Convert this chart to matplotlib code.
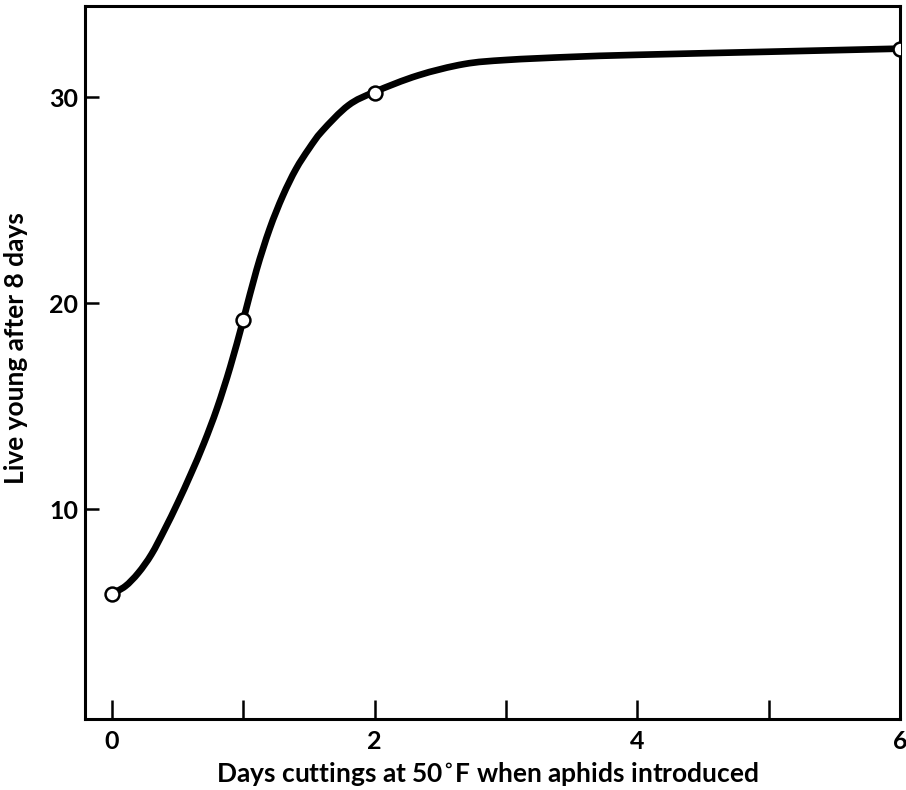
import matplotlib.pyplot as plt
from matplotlib.path import Path
from matplotlib.patches import PathPatch
from matplotlib.ticker import MultipleLocator

## observed points: days at 50F vs live young after 8 days
days = [0, 1, 2, 6]
young = [5.9, 19.2, 30.2, 32.35]

## hand-fitted curve through the points
curve_days = [0, 0.1, 0.2, 0.3, 0.4, 0.5, 0.6, 0.7, 0.8, 0.9, 1.0,
              1.1, 1.2, 1.3, 1.4, 1.5, 1.6, 1.8, 2.0, 2.33, 2.68, 3.0, 3.5,
              4.0, 5.0, 6.0]
curve_young = [5.9, 6.25, 6.9, 7.8, 9.0, 10.3, 11.7, 13.2, 14.9, 16.9, 19.2,
               21.6, 23.6, 25.2, 26.5, 27.5, 28.35, 29.6, 30.25, 31.05, 31.6,
               31.8, 31.95, 32.05, 32.2, 32.35]

x_ticks = [0, 2, 4, 6]
y_ticks = [10, 20, 30]


## catmull-rom knots -> cubic bezier path so the curve draws smooth
def smooth_path(xs, ys):
    pts = list(zip(xs, ys))
    verts = [pts[0]]
    codes = [Path.MOVETO]
    n = len(pts)
    for i in range(n - 1):
        p0 = pts[i - 1] if i > 0 else pts[i]
        p1 = pts[i]
        p2 = pts[i + 1]
        p3 = pts[i + 2] if i + 2 < n else pts[i + 1]
        c1 = (p1[0] + (p2[0] - p0[0]) / 6, p1[1] + (p2[1] - p0[1]) / 6)
        c2 = (p2[0] - (p3[0] - p1[0]) / 6, p2[1] - (p3[1] - p1[1]) / 6)
        verts += [c1, c2, p2]
        codes += [Path.CURVE4] * 3
    return Path(verts, codes)


plt.rcParams['font.family'] = ['Lato', 'DejaVu Sans']
plt.rcParams['font.weight'] = 'bold'

fig = plt.figure(figsize=(9.06, 7.90), dpi=100)
ax = fig.add_axes([0.0938, 0.0899, 0.8996, 0.9025])

ax.add_patch(PathPatch(smooth_path(curve_days, curve_young), fill=False,
                       edgecolor='black', lw=4.8, capstyle='round',
                       joinstyle='round', zorder=2))
ax.plot(days, young, 'o', ms=10, mfc='white', mec='black', mew=1.8, zorder=3)

ax.set_xlim(-0.206, 6.0)
ax.set_ylim(-0.19, 34.42)

ax.set_xticks(x_ticks)
ax.xaxis.set_minor_locator(MultipleLocator(1))
ax.set_yticks(y_ticks)

ax.tick_params(axis='x', which='both', direction='in', length=13.7, width=1.8,
               pad=8, labelsize=18)
ax.tick_params(axis='y', which='both', direction='in', length=10, width=1.8,
               pad=5, labelsize=18)

for sp in ax.spines.values():
    sp.set_linewidth(2.2)

ax.set_xlabel('Days cuttings at 50$^{\\circ}$F when aphids introduced',
              fontsize=19, fontweight='bold')
ax.xaxis.set_label_coords(0.494, -0.058)
ax.set_ylabel('Live young after 8 days', fontsize=19, fontweight='bold')
ax.yaxis.set_label_coords(-0.07, 0.52)

fig.savefig('out.png', dpi=100)
